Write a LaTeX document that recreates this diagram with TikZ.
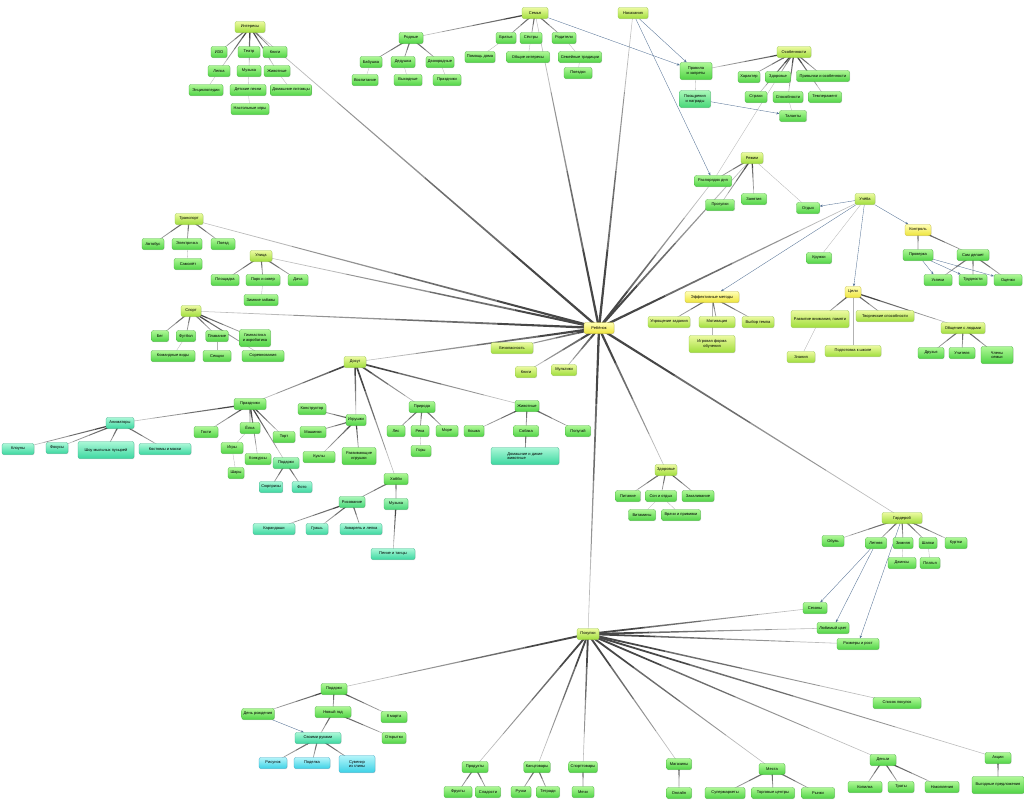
\documentclass[tikz,border=0pt]{standalone}
\usepackage{fontspec}
\setmainfont{Liberation Sans}
\usetikzlibrary{calc,shadows,arrows.meta}
\pgfdeclarelayer{bg}
\pgfsetlayers{bg,main}
\definecolor{mtT}{RGB}{236,250,160}
\definecolor{mtB}{RGB}{160,222,60}
\definecolor{mtD}{RGB}{150,200,70}
\definecolor{sgT}{RGB}{175,248,150}
\definecolor{sgB}{RGB}{80,212,70}
\definecolor{sgD}{RGB}{70,180,60}
\definecolor{tgT}{RGB}{170,248,185}
\definecolor{tgB}{RGB}{70,214,120}
\definecolor{tgD}{RGB}{65,180,100}
\definecolor{tlT}{RGB}{170,248,215}
\definecolor{tlB}{RGB}{60,215,160}
\definecolor{tlD}{RGB}{60,180,140}
\definecolor{cyT}{RGB}{180,245,250}
\definecolor{cyB}{RGB}{60,210,230}
\definecolor{cyD}{RGB}{60,170,200}
\definecolor{ylT}{RGB}{255,255,180}
\definecolor{ylB}{RGB}{238,228,60}
\definecolor{ylD}{RGB}{200,190,60}
\definecolor{arrc}{RGB}{85,115,150}
\tikzset{
 box/.style={rounded corners=2pt, minimum height=11pt, inner xsep=2pt, inner ysep=1pt, align=center,
   font=\fontsize{4}{4.6}\selectfont, line width=0.3pt,
   drop shadow={opacity=0.25,shadow xshift=0.5pt,shadow yshift=-0.7pt}},
 mt/.style={box, top color=mtT, bottom color=mtB, draw=mtD},
 sg/.style={box, top color=sgT, bottom color=sgB, draw=sgD},
 tg/.style={box, top color=tgT, bottom color=tgB, draw=tgD},
 tl/.style={box, top color=tlT, bottom color=tlB, draw=tlD},
 cy/.style={box, top color=cyT, bottom color=cyB, draw=cyD},
 yl/.style={box, top color=ylT, bottom color=ylB, draw=ylD},
 wd/.style={minimum width=#1pt},
 tall/.style={minimum height=17pt},
 lite/.style={draw=black!30, line width=0.3pt},
 arr/.style={draw=arrc, line width=0.35pt, -{Stealth[length=3pt,width=2.4pt]}},
}
\newcommand\taper[3][0.7]{%
 \foreach \ta/\tb/\cc in {0/0.25/72,0.25/0.5/57,0.5/0.75/42,0.75/1/27}{%
  \pgfmathsetmacro\wa{#1*(1-\ta)+0.2*\ta}%
  \pgfmathsetmacro\wb{#1*(1-\tb)+0.2*\tb}%
  \path ($(#2.center)!\ta!(#3.center)$) coordinate (tpa) ($(#2.center)!\tb!(#3.center)$) coordinate (tpb);
  \fill[black!\cc] ($(tpa)!\wa pt!90:(#3.center)$) -- ($(tpb)!\wb pt!-90:(#2.center)$) -- ($(tpb)!\wb pt!90:(#2.center)$) -- ($(tpa)!\wa pt!-90:(#3.center)$) -- cycle;
 }}
\begin{document}
\begin{tikzpicture}[x=1pt,y=-1pt]
\useasboundingbox (0,0) rectangle (1024,801);
% center
\node[yl,wd=30] (C) at (599,328) {Ребёнок};
% Интересы
\node[mt,wd=30] (I0) at (250,27) {Интересы};
\node[sg,wd=16] (I1) at (219,52) {ИЗО};
\node[sg,wd=22] (I2) at (249,52) {Театр};
\node[sg,wd=24] (I3) at (275,52) {Книги};
\node[sg,wd=22] (I4) at (219,71) {Лепка};
\node[sg,wd=24] (I5) at (249,71) {Музыка};
\node[sg,wd=26] (I6) at (277,71) {Животные};
\node[sg,wd=34] (I7) at (206,90) {Энциклопедии};
\node[sg,wd=36] (I8) at (248,90) {Детские песни};
\node[sg,wd=38] (I9) at (291,90) {Домашние питомцы};
\node[sg,wd=38] (I10) at (250,109) {Настольные игры};
% Семья
\node[mt,wd=26] (F0) at (535,13) {Семья};
\node[sg,wd=24] (F1) at (411,38) {Родные};
\node[sg,wd=20] (F2) at (506,38) {Братья};
\node[sg,wd=22] (F3) at (531,38) {Сёстры};
\node[sg,wd=24] (F4) at (564,38) {Родители};
\node[sg,wd=22] (F5) at (371,62) {Бабушка};
\node[sg,wd=24] (F6) at (403,62) {Дедушка};
\node[sg,wd=26] (F7) at (440,62) {Двоюродные};
\node[sg,wd=26] (F8) at (365,80) {Воспитание};
\node[sg,wd=28] (F9) at (408,80) {Выходные};
\node[sg,wd=28] (F10) at (447,80) {Праздники};
\node[sg,wd=28] (F11) at (480,57) {Помощь дома};
\node[sg,wd=43] (F12) at (528,57) {Общие интересы};
\node[sg,wd=43] (F13) at (580,57) {Семейные традиции};
\node[sg,wd=28] (F14) at (578,73) {Поездки};
% Наказания / Особенности
\node[mt,wd=30] (P0) at (633,13) {Наказания};
\node[sg,wd=32,tall] (D1) at (696,71) {Правила\\и запреты};
\node[tg,wd=31,tall] (D2) at (695,99) {Поощрения\\и награды};
\node[mt,wd=34] (X0) at (794,52) {Особенности};
\node[sg,wd=22] (X1) at (749,77) {Характер};
\node[sg,wd=25] (X2) at (778,77) {Здоровье};
\node[sg,wd=53] (X3) at (823,76) {Привычки и особенности};
\node[sg,wd=22] (X4) at (756,97) {Страхи};
\node[sg,wd=30] (X5) at (788,97) {Способности};
\node[sg,wd=33] (X6) at (825,97) {Темперамент};
\node[sg,wd=27] (X7) at (793,116) {Таланты};
% Режим
\node[mt,wd=22] (R0) at (752,158) {Режим};
\node[sg,wd=37] (R1) at (713,181) {Распорядок дня};
\node[sg,wd=29] (R2) at (720,205) {Прогулки};
\node[sg,wd=25] (R3) at (754,199) {Занятия};
\node[sg,wd=23] (R4) at (808,208) {Отдых};
% Учёба
\node[mt,wd=20] (U0) at (865,199) {Учёба};
\node[sg,wd=25] (U1) at (819,258) {Кружки};
\node[yl,wd=26] (U2) at (918,230) {Контроль};
\node[sg,wd=30] (U3) at (918,255) {Проверка};
\node[sg,wd=32] (U4) at (973,255) {Сам делает};
\node[sg,wd=28] (U5) at (938,280) {Успехи};
\node[sg,wd=28] (U6) at (973,280) {Трудности};
\node[sg,wd=28] (U7) at (1008,280) {Оценки};
% Цели
\node[yl,wd=16] (E0) at (853,292) {Цели};
\node[mt,wd=58,tall] (E1) at (820,319) {Развитие внимания, памяти};
\node[mt,wd=58] (E2) at (885,316) {Творческие способности};
\node[mt,wd=44] (E3) at (963,328) {Общение с людьми};
\node[mt,wd=28] (E4) at (801,357) {Знания};
\node[mt,wd=56] (E5) at (853,351) {Подготовка к школе};
\node[sg,wd=26] (E6) at (931,353) {Друзья};
\node[sg,wd=26] (E7) at (962,353) {Учителя};
\node[sg,wd=32,tall] (E8) at (997,355) {Члены\\семьи};
% Методы
\node[yl,wd=54] (W0) at (712,297) {Эффективные методы};
\node[mt,wd=42] (W1) at (669,322) {Упрощение задания};
\node[mt,wd=36] (W2) at (717,322) {Мотивация};
\node[mt,wd=32] (W3) at (758,322) {Выбор темпа};
\node[mt,wd=46,tall] (W4) at (712,344) {Игровая форма\\обучения};
% Транспорт
\node[mt,wd=28] (T0) at (189,219) {Транспорт};
\node[sg,wd=22] (T1) at (153,244) {Автобус};
\node[sg,wd=30] (T2) at (187,244) {Электричка};
\node[sg,wd=24] (T3) at (223,244) {Поезд};
\node[sg,wd=28] (T4) at (188,264) {Самолёт};
% Улица
\node[mt,wd=22] (S0) at (261,256) {Улица};
\node[sg,wd=28] (S1) at (225,280) {Площадка};
\node[sg,wd=34] (S2) at (263,280) {Парк и сквер};
\node[sg,wd=20] (S3) at (298,280) {Дача};
\node[sg,wd=34] (S4) at (261,300) {Зимние забавы};
% Спорт
\node[mt,wd=20] (G0) at (191,311) {Спорт};
\node[sg,wd=17] (G1) at (160,336) {Бег};
\node[sg,wd=19] (G2) at (186,336) {Футбол};
\node[sg,wd=22] (G3) at (217,336) {Плавание};
\node[sg,wd=31,tall] (G4) at (255,338) {Гимнастика\\и акробатика};
\node[sg,wd=44] (G5) at (173,356) {Командные виды};
\node[sg,wd=28] (G6) at (217,356) {Секции};
\node[sg,wd=42] (G7) at (263,356) {Соревнования};
% Досуг
\node[mt,wd=22] (M0) at (355,362) {Досуг};
\node[sg,wd=32] (A0) at (250,404) {Праздники};
\node[sg,wd=24] (A1) at (206,432) {Гости};
\node[sg,wd=20] (A2) at (250,428) {Ёлка};
\node[sg,wd=22] (A3) at (284,437) {Торт};
\node[sg,wd=22] (A4) at (232,448) {Игры};
\node[sg,wd=26] (A5) at (258,459) {Конкурсы};
\node[tg,wd=26] (A6) at (286,463) {Подарки};
\node[sg,wd=16] (A7) at (236,473) {Шары};
\node[tl,wd=22] (A8) at (271,487) {Сюрпризы};
\node[tl,wd=20] (A9) at (302,487) {Фото};
\node[tl,wd=28] (L0) at (120,423) {Аниматоры};
\node[tl,wd=32] (L1) at (18,449) {Клоуны};
\node[tl,wd=22] (L2) at (57,448) {Фокусы};
\node[tl,wd=56,tall] (L3) at (106,450) {Шоу мыльных пузырей};
\node[tl,wd=52] (L4) at (165,449) {Костюмы и маски};
\node[sg,wd=20] (Y0) at (356,420) {Игрушки};
\node[sg,wd=28] (Y1) at (312,409) {Конструктор};
\node[sg,wd=26] (Y2) at (313,432) {Машинки};
\node[sg,wd=32] (Y3) at (319,457) {Куклы};
\node[sg,wd=34,tall] (Y4) at (359,456) {Развивающие\\игрушки};
\node[sg,wd=26] (N0) at (422,407) {Природа};
\node[sg,wd=18] (N1) at (396,431) {Лес};
\node[sg,wd=18] (N2) at (420,431) {Река};
\node[sg,wd=22] (N3) at (447,431) {Море};
\node[sg,wd=20] (N4) at (421,451) {Горы};
\node[sg,wd=24] (Z0) at (527,406) {Животные};
\node[sg,wd=20] (Z1) at (474,431) {Кошка};
\node[sg,wd=25] (Z2) at (526,431) {Собака};
\node[sg,wd=25] (Z3) at (578,431) {Попугай};
\node[tl,wd=68,tall,align=left] (Z4) at (525,456) {Домашние и дикие\\животные};
\node[sg,wd=24] (V0) at (396,479) {Хобби};
\node[tg,wd=26] (V1) at (352,502) {Рисование};
\node[tg,wd=24] (V2) at (396,504) {Музыка};
\node[tl,wd=42] (V3) at (274,529) {Карандаши};
\node[tl,wd=22] (V4) at (317,529) {Гуашь};
\node[tl,wd=42] (V5) at (361,529) {Акварель и лепка};
\node[tl,wd=44] (V6) at (393,554) {Пение и танцы};
% small topics
\node[mt,wd=42] (B1) at (512,348) {Безопасность};
\node[mt,wd=21] (B2) at (526,372) {Книги};
\node[mt,wd=25] (B3) at (564,370) {Мультики};
% Здоровье
\node[mt,wd=21] (H0) at (666,470) {Здоровье};
\node[sg,wd=25] (H1) at (628,496) {Питание};
\node[sg,wd=31] (H2) at (661,496) {Сон и отдых};
\node[sg,wd=32] (H3) at (698,496) {Закаливание};
\node[sg,wd=27] (H4) at (642,515) {Витамины};
\node[sg,wd=39] (H5) at (681,515) {Врачи и прививки};
% Гардероб
\node[mt,wd=40] (O0) at (902,518) {Гардероб};
\node[sg,wd=22] (O1) at (833,541) {Обувь};
\node[sg,wd=21] (O2) at (876,543) {Летняя};
\node[sg,wd=20] (O3) at (903,543) {Зимняя};
\node[sg,wd=18] (O4) at (928,543) {Шапки};
\node[sg,wd=22] (O5) at (956,543) {Куртки};
\node[sg,wd=28] (O6) at (902,563) {Джинсы};
\node[sg,wd=20] (O7) at (930,563) {Платья};
\node[sg,wd=24] (Q1) at (815,608) {Сезоны};
\node[sg,wd=32] (Q2) at (833,628) {Любимый цвет};
\node[sg,wd=42] (Q3) at (858,644) {Размеры и рост};
% Покупки
\node[mt,wd=22] (K0) at (588,634) {Покупки};
\node[sg,wd=26] (J0) at (334,689) {Подарки};
\node[sg,wd=32] (J1) at (258,714) {День рождения};
\node[sg,wd=36] (J2) at (333,712) {Новый год};
\node[sg,wd=26] (J3) at (394,717) {8 марта};
\node[tl,wd=46] (J4) at (318,738) {Своими руками};
\node[sg,wd=24] (J5) at (394,738) {Открытки};
\node[cy,wd=28] (J6) at (273,763) {Рисунок};
\node[cy,wd=36] (J7) at (312,763) {Поделка};
\node[cy,wd=36,tall] (J8) at (357,764) {Сувенир\\из глины};
\node[sg,wd=26] (Bb1) at (475,767) {Продукты};
\node[sg,wd=28] (c11) at (458,792) {Фрукты};
\node[sg,wd=25] (c12) at (488,792) {Сладости};
\node[sg,wd=25] (Bb2) at (537,767) {Канцтовары};
\node[sg,wd=20] (c21) at (521,792) {Ручки};
\node[sg,wd=23] (c22) at (548,792) {Тетради};
\node[sg,wd=27] (Bb3) at (583,767) {Спорттовары};
\node[sg,wd=22] (c31) at (583,792) {Мячи};
\node[sg,wd=25] (Bb4) at (679,764) {Магазины};
\node[sg,wd=25] (c41) at (679,793) {Онлайн};
\node[sg,wd=26] (Bb5) at (772,769) {Места};
\node[sg,wd=40] (c51) at (725,793) {Супермаркеты};
\node[sg,wd=43] (c52) at (773,793) {Торговые центры};
\node[sg,wd=33] (c53) at (818,793) {Рынки};
\node[sg,wd=48] (Bb6) at (897,703) {Список покупок};
\node[sg,wd=26] (Bb7) at (883,760) {Деньги};
\node[sg,wd=34] (c71) at (865,787) {Копилка};
\node[sg,wd=26] (c72) at (901,787) {Траты};
\node[sg,wd=34] (c73) at (942,787) {Накопления};
\node[sg,wd=26] (Bb8) at (998,758) {Акции};
\node[sg,wd=52,tall] (c81) at (998,785) {Выгодные предложения};
\begin{pgfonlayer}{bg}
\fill[white] (0,0) rectangle (1024,801);
\foreach \t in {I0,F0,P0,R1,R0,U0,T0,S0,G0,M0,B1,B2,B3,H0,O0,K0} {\taper[1.2]{C}{\t}}
\foreach \t in {I1,I2,I3,I4,I5,I6} {\taper{I0}{\t}}
\foreach \t in {F1,F2,F3,F4} {\taper{F0}{\t}}
\foreach \t in {F5,F6,F7} {\taper{F1}{\t}}
\foreach \t in {D1,X1,X2,X3,X4,X5,X6} {\taper{X0}{\t}}
\foreach \t in {R1,R2,R3} {\taper{R0}{\t}}
\foreach \t in {U3,U4} {\taper{U2}{\t}}
\foreach \t in {U5,U6,U7} {\taper{U4}{\t}}
\foreach \t in {E1,E2,E3} {\taper{E0}{\t}}
\foreach \t in {E6,E7,E8} {\taper{E3}{\t}}
\foreach \t in {W1,W2,W3} {\taper{W0}{\t}}
\foreach \t in {T1,T2,T3} {\taper{T0}{\t}}
\foreach \t in {S1,S2,S3} {\taper{S0}{\t}}
\foreach \t in {G1,G2,G3,G4,G7} {\taper{G0}{\t}}
\foreach \t in {A0,Y0,N0,Z0,V0} {\taper[0.9]{M0}{\t}}
\foreach \t in {A1,A2,A3,A5,A6,L0} {\taper{A0}{\t}}
\foreach \t in {A8,A9} {\taper{A6}{\t}}
\foreach \t in {L1,L2,L3,L4} {\taper{L0}{\t}}
\foreach \t in {Y1,Y2,Y3,Y4} {\taper{Y0}{\t}}
\foreach \t in {N1,N2,N3} {\taper{N0}{\t}}
\foreach \t in {Z1,Z2,Z3} {\taper{Z0}{\t}}
\taper{Z2}{Z4}
\foreach \t in {V1,V2} {\taper{V0}{\t}}
\foreach \t in {V3,V4,V5} {\taper{V1}{\t}}
\taper{V2}{V6}
\foreach \t in {H1,H2,H3} {\taper{H0}{\t}}
\foreach \t in {O1,O2,O3,O4,O5} {\taper{O0}{\t}}
\foreach \t in {Q1,Q2,Q3,J0,Bb1,Bb2,Bb3,Bb4,Bb5,Bb6,Bb7,Bb8} {\taper[1.0]{K0}{\t}}
\foreach \t in {J1,J2,J3} {\taper{J0}{\t}}
\foreach \t in {J4,J5} {\taper{J2}{\t}}
\foreach \t in {J6,J7,J8} {\taper{J4}{\t}}
\foreach \t in {c11,c12} {\taper{Bb1}{\t}}
\foreach \t in {c21,c22} {\taper{Bb2}{\t}}
\taper{Bb3}{c31}
\taper{Bb4}{c41}
\foreach \t in {c51,c52,c53} {\taper{Bb5}{\t}}
\foreach \t in {c71,c72,c73} {\taper{Bb7}{\t}}
\taper{Bb8}{c81}
% light lines
\foreach \a/\b in {I4/I7,I5/I8,I6/I9,I8/I10,F5/F8,F6/F9,F7/F10,F2/F11,F3/F12,F4/F13,F13/F14,D1/D2,X5/X7,X2/R1,R0/R4,U0/U1,E1/E4,E0/E5,W0/W4,T2/T4,S2/S4,G2/G5,G3/G6,A2/A4,A4/A7,N2/N4,H2/H4,H2/H5,O3/O6,O4/O7}
  {\draw[lite] (\a) -- (\b);}
% arrows
\foreach \a/\b in {F0/D1,P0/D1,P0/R1,D2/X7,U0/R4,U0/U2,U0/E0,U0/W0,U3/U5,U3/U6,U3/U7,O2/Q1,O2/Q2,O0/Q3,J1/J4}
  {\draw[arr] (\a) -- (\b);}
\end{pgfonlayer}
\end{tikzpicture}
\end{document}
